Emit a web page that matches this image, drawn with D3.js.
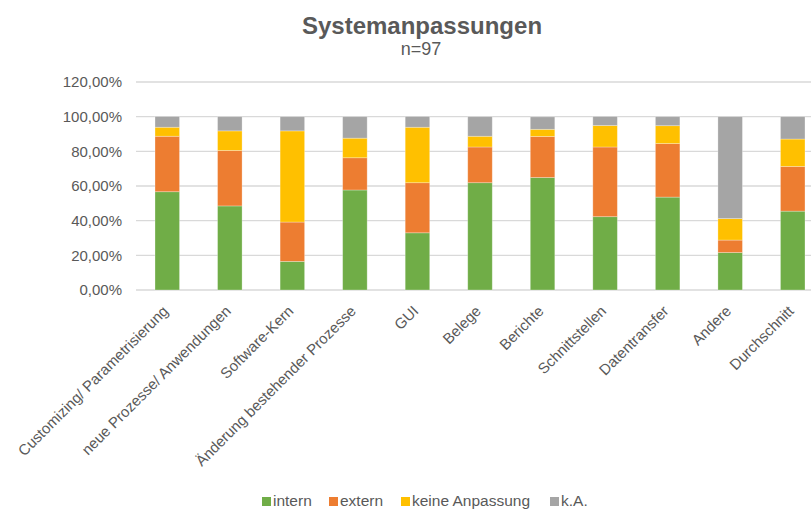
<!DOCTYPE html>
<html><head><meta charset="utf-8">
<script src="https://cdn.jsdelivr.net/npm/d3@7"></script>
<style>body{margin:0;background:#fff}svg{display:block;font-family:"Liberation Sans",Arial,sans-serif}</style>
</head><body>
<script>
const categories = ["Customizing/ Parametrisierung","neue Prozesse/ Anwendungen","Software-Kern","Änderung bestehender Prozesse","GUI","Belege","Berichte","Schnittstellen","Datentransfer","Andere","Durchschnitt"];
const seriesNames = ["intern","extern","keine Anpassung","k.A."];
const intern = [56.7,48.5,16.5,57.7,33.0,61.9,64.9,42.3,53.6,21.6,45.5];
const extern = [32.0,32.0,22.7,18.6,28.9,20.6,23.7,40.2,30.9,7.2,25.8];
const keineAnpassung = [5.2,11.3,52.6,11.3,32.0,6.2,4.1,12.4,10.3,12.4,15.8];
const kA = [6.2,8.2,8.2,12.4,6.2,11.3,7.2,5.2,5.2,58.8,12.9];
const yTicks = [0,20,40,60,80,100,120];
const colors = ["#70AD47","#ED7D31","#FFC000","#A5A5A5"];

const W = 811, H = 510;
const svg = d3.select("body").append("svg").attr("width",W).attr("height",H);
const plot = {left:136, right:824, top:82, bottom:290};

const x = d3.scaleBand().domain(categories).range([plot.left, plot.right]).paddingInner(0.608).paddingOuter(0.304);
const y = d3.scaleLinear().domain([0,120]).range([plot.bottom, plot.top]);

// gridlines
svg.append("g").selectAll("line").data(yTicks).join("line")
  .attr("x1",plot.left).attr("x2",W).attr("y1",d=>y(d)).attr("y2",d=>y(d))
  .attr("stroke","#d9d9d9").attr("stroke-width",1.3);

// y axis labels
const yAxis = d3.axisLeft(y).tickValues(yTicks).tickSize(0).tickPadding(0)
  .tickFormat(d=>d3.format(".2f")(d).replace(".",",")+"%");
const ga = svg.append("g").attr("transform",`translate(122,0)`).call(yAxis);
ga.select(".domain").remove();
ga.selectAll("text").attr("fill","#595959").style("font-size","15px").style("font-family","'Liberation Sans',Arial,sans-serif");

// stacked data
const rows = categories.map((c,i)=>({cat:c, "intern":intern[i], "extern":extern[i], "keine Anpassung":keineAnpassung[i], "k.A.":kA[i]}));
const stack = d3.stack().keys(seriesNames)(rows);
svg.append("g").selectAll("g").data(stack).join("g").attr("fill",(d,i)=>colors[i])
  .selectAll("rect").data(d=>d).join("rect")
  .attr("x",d=>x(d.data.cat)).attr("width",x.bandwidth())
  .attr("y",d=>y(d[1])).attr("height",d=>y(d[0])-y(d[1]))
  .attr("stroke","#ffffff").attr("stroke-opacity",0.35).attr("stroke-width",0.8);

// x labels
const xAxis = d3.axisBottom(x).tickSize(0).tickPadding(0);
const gx = svg.append("g").attr("transform",`translate(0,${plot.bottom})`).call(xAxis);
gx.select(".domain").remove();
gx.selectAll("text").attr("fill","#595959").style("font-size","15px")
  .style("font-family","'Liberation Sans',Arial,sans-serif")
  .attr("text-anchor","end").attr("dy",null).attr("y",null)
  .attr("transform","translate(2,22) rotate(-45)");

// title
svg.append("text").attr("x",422).attr("y",34).attr("text-anchor","middle")
  .attr("fill","#595959").style("font-size","24px").style("font-weight","bold").text("Systemanpassungen");
svg.append("text").attr("x",421).attr("y",55).attr("text-anchor","middle")
  .attr("fill","#595959").style("font-size","18px").text("n=97");

// legend
const legX = [262,329,401,550];
const leg = svg.append("g").selectAll("g").data(seriesNames).join("g")
  .attr("transform",(d,i)=>`translate(${legX[i]},${501.5})`);
leg.append("rect").attr("x",0).attr("y",-4.5).attr("width",9).attr("height",9).attr("fill",(d,i)=>colors[i]);
leg.append("text").attr("x",11).attr("y",4.5).attr("fill","#595959").style("font-size","15.5px").text(d=>d);
</script>
</body></html>
